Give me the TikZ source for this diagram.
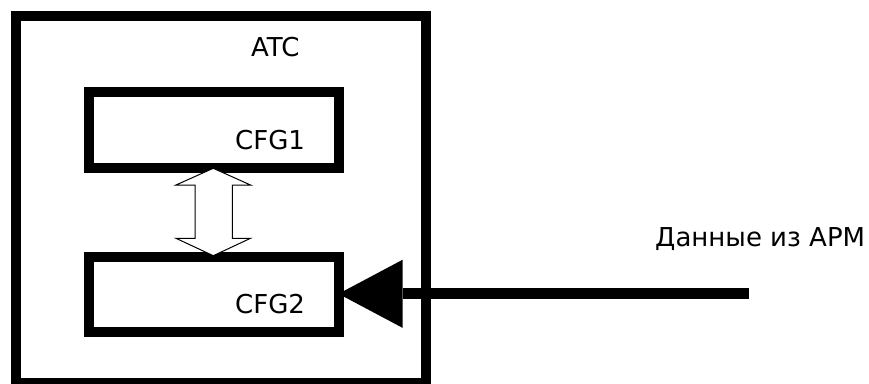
\documentclass[tikz,border=0pt]{standalone}
\usepackage{fontspec}
\setmainfont{DejaVu Sans}
\usetikzlibrary{arrows.meta}

\tikzset{
  heavybox/.style={draw=black, line width=10pt, line join=miter, fill=none},
  block/.style={heavybox, rectangle, inner sep=0pt, outer sep=0pt},
  caption/.style={font=\fontsize{26}{30}\selectfont, inner sep=0pt, anchor=base west},
  feed/.style={line width=11pt, -{Triangle[length=64pt, width=68pt, line width=0pt]}},
  exchange/.style={draw=black, line width=1pt, fill=white, line join=miter}
}

\begin{document}
\begin{tikzpicture}[x=1pt, y=-1pt]
  \useasboundingbox (0,0) rectangle (869,383);

  % outer station box (bottom edge runs off the page)
  \node[block, minimum width=410pt, minimum height=367.5pt, anchor=north west]
    (atc) at (16,15.5) {};
  \node[caption] (atclabel) at (251,56.7) {ATC};

  % configuration blocks
  \node[block, minimum width=249.5pt, minimum height=76.5pt] (cfg1) at (213.75,129.75) {};
  \node[block, minimum width=249.5pt, minimum height=75.3pt] (cfg2) at (213.75,294.35) {};
  \node[caption] (cfg1label) at (235,149) {CFG1};
  \node[caption] (cfg2label) at (235,313) {CFG2};

  % two-way exchange between the blocks
  \coordinate (mid) at (213.3,212);
  \draw[exchange] (213.3,168.3) -- (250.5,185) -- (232.3,185) -- (232.3,238.3)
    -- (250.5,238.3) -- (213.3,255.7) -- (176,238.3) -- (195,238.3)
    -- (195,185) -- (176,185) -- cycle;

  % incoming data
  \coordinate (src) at (749,293.8);
  \draw[feed] (src) -- (cfg2.east |- src);
  \node[caption] (srclabel) at (655,246.7) {Данные из АРМ};
\end{tikzpicture}
\end{document}
